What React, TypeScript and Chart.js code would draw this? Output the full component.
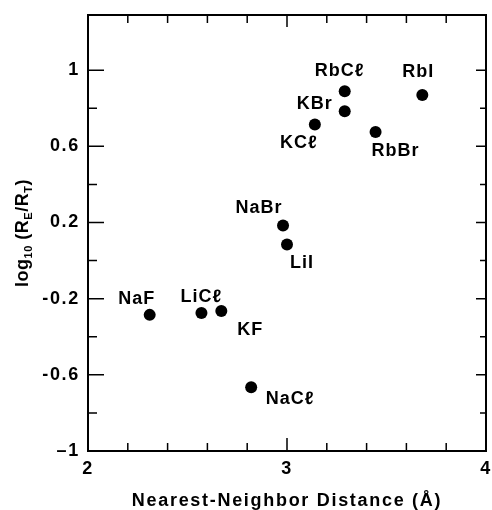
import React, { useEffect, useRef } from "react";
import { Chart, registerables } from "chart.js";

Chart.register(...registerables);

// ---- data ----
const saltNames = ["NaF", "LiCℓ", "KF", "NaCℓ", "NaBr", "LiI", "KCℓ", "KBr", "RbCℓ", "RbBr", "RbI"];
const nnDistance = [2.31, 2.57, 2.67, 2.82, 2.98, 3.0, 3.14, 3.29, 3.29, 3.445, 3.68];
const logRatio = [-0.285, -0.275, -0.265, -0.665, 0.185, 0.085, 0.715, 0.785, 0.89, 0.675, 0.87];

const xMajorTicks = [2, 3, 4];
const xMinorTicks = [2.2, 2.4, 2.6, 2.8, 3.2, 3.4, 3.6, 3.8];
const yMajorTicks = [-1, -0.6, -0.2, 0.2, 0.6, 1];
const yMinorTicks = [-0.8, -0.4, 0, 0.4, 0.8];
const yTickLabels = ["–1", "-0.6", "-0.2", "0.2", "0.6", "1"];
const xTickLabels = ["2", "3", "4"];

const xTitle = "Nearest-Neighbor Distance (Å)";

// ---- label placement (pixel offsets from point centre) ----
const labelDx = [-13, 0, 29, 39, -24, 15, -16, -30, -5, 20, -4];
const labelDy = [-17, -17, 18, 11, -18, 17.5, 18, -8, -21, 18, -24];

const FONT = "'Liberation Sans', Arial, Helvetica, sans-serif";

const decorPlugin = {
  id: "decor",
  beforeDraw(chart: any) {
    (chart.ctx as any).letterSpacing = "1.7px";
  },
  afterDraw(chart: any) {
    const ctx = chart.ctx as CanvasRenderingContext2D;
    const { left, right, top, bottom } = chart.chartArea;
    const xs = chart.scales.x;
    const ys = chart.scales.y;
    ctx.save();
    ctx.strokeStyle = "#000";
    ctx.fillStyle = "#000";
    // frame
    ctx.lineWidth = 2;
    ctx.strokeRect(left, top, right - left, bottom - top);
    // ticks
    ctx.lineWidth = 1.5;
    ctx.beginPath();
    const xTick = (v: number, lb: number, lt: number) => {
      const px = xs.getPixelForValue(v);
      ctx.moveTo(px, bottom);
      ctx.lineTo(px, bottom - lb);
      ctx.moveTo(px, top);
      ctx.lineTo(px, top + lt);
    };
    const yTick = (v: number, ll: number, lr: number) => {
      const py = ys.getPixelForValue(v);
      ctx.moveTo(left, py);
      ctx.lineTo(left + ll, py);
      ctx.moveTo(right, py);
      ctx.lineTo(right - lr, py);
    };
    xMajorTicks.forEach((v) => xTick(v, 13, 12));
    xMinorTicks.forEach((v) => xTick(v, 8, 8));
    yMajorTicks.forEach((v) => yTick(v, 16, 10));
    yMinorTicks.forEach((v) => yTick(v, 9, 6));
    ctx.stroke();

    // point labels
    (ctx as any).letterSpacing = "1px";
    ctx.font = `bold 18px ${FONT}`;
    ctx.textAlign = "center";
    ctx.textBaseline = "middle";
    saltNames.forEach((name, i) => {
      const px = xs.getPixelForValue(nnDistance[i]);
      const py = ys.getPixelForValue(logRatio[i]);
      ctx.fillText(name, px + labelDx[i], py + labelDy[i] + 1);
    });

    // y-axis title with subscripts
    const segs: [string, number, number][] = [
      ["log", 18, 0],
      ["10", 11, 4],
      [" (R", 18, 0],
      ["E", 11, 4],
      ["/R", 18, 0],
      ["T", 11, 4],
      [")", 18, 0],
    ];
    (ctx as any).letterSpacing = "0.5px";
    let total = 0;
    const widths = segs.map(([t, s]) => {
      ctx.font = `bold ${s}px ${FONT}`;
      const w = ctx.measureText(t).width;
      total += w;
      return w;
    });
    ctx.translate(28, (top + bottom) / 2);
    ctx.rotate(-Math.PI / 2);
    ctx.textAlign = "left";
    ctx.textBaseline = "alphabetic";
    let cx = -total / 2;
    segs.forEach(([t, s, dy], i) => {
      ctx.font = `bold ${s}px ${FONT}`;
      ctx.fillText(t, cx, dy);
      cx += widths[i];
    });
    ctx.restore();
  },
};

export default function App() {
  const ref = useRef<HTMLCanvasElement | null>(null);
  useEffect(() => {
    if (!ref.current) return;
    const chart = new Chart(ref.current, {
      type: "scatter",
      data: {
        datasets: [
          {
            data: nnDistance.map((x, i) => ({ x, y: logRatio[i] })),
            backgroundColor: "#000",
            borderWidth: 0,
            pointRadius: 6,
            pointHoverRadius: 6,
          },
        ],
      },
      options: {
        animation: false,
        responsive: false,
        events: [],
        layout: { padding: { left: 0, top: 15, right: 2, bottom: 0 } },
        plugins: { legend: { display: false }, tooltip: { enabled: false } },
        scales: {
          x: {
            type: "linear",
            min: 2,
            max: 4,
            grid: { display: false, drawTicks: false },
            border: { display: false },
            afterBuildTicks: (s: any) => {
              s.ticks = xMajorTicks.map((v) => ({ value: v }));
            },
            afterFit: (s: any) => {
              s.height = 59;
              s.paddingLeft = 0;
              s.paddingRight = 0;
            },
            ticks: {
              autoSkip: false,
              maxRotation: 0,
              padding: 7,
              color: "#000",
              font: { family: FONT, size: 18, weight: "bold" },
              callback: (_v: any, i: number) => xTickLabels[i],
            },
            title: {
              display: true,
              text: xTitle,
              color: "#000",
              font: { family: FONT, size: 18, weight: "bold", lineHeight: 1 },
              padding: { top: 0, bottom: 0 },
            },
          },
          y: {
            type: "linear",
            min: -1,
            max: 1.29,
            grid: { display: false, drawTicks: false },
            border: { display: false },
            afterBuildTicks: (s: any) => {
              s.ticks = yMajorTicks.map((v) => ({ value: v }));
            },
            afterFit: (s: any) => {
              s.width = 88;
              s.paddingTop = 0;
              s.paddingBottom = 0;
            },
            ticks: {
              autoSkip: false,
              padding: 8,
              color: "#000",
              font: { family: FONT, size: 18, weight: "bold" },
              callback: (_v: any, i: number) => yTickLabels[i],
            },
          },
        },
      },
      plugins: [decorPlugin],
    } as any);
    return () => chart.destroy();
  }, []);
  return (
    <div style={{ position: "absolute", left: 0, top: 0, width: 492, height: 510, background: "#fff" }}>
      <canvas ref={ref} width={492} height={510} />
    </div>
  );
}
